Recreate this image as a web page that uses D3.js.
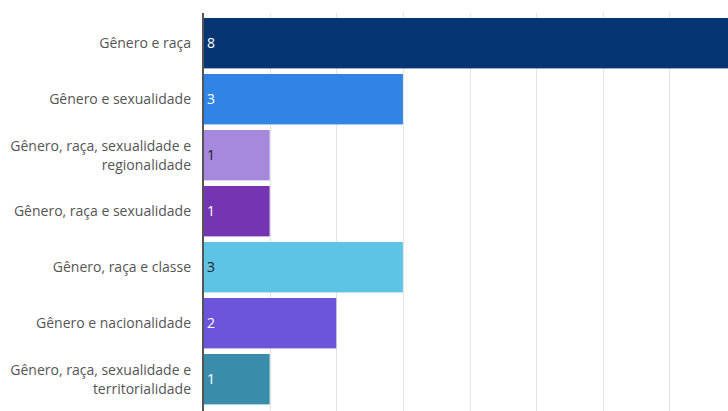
<!DOCTYPE html>
<html>
<head>
<meta charset="utf-8">
<script src="https://cdn.jsdelivr.net/npm/d3@7"></script>
<style>
  html, body { margin: 0; padding: 0; background: #fff; }
  svg { display: block; font-family: "Open Sans", "Noto Sans", sans-serif; }
  .cat-label { fill: #555; font-size: 14px; }
  .bar-label { font-size: 14px; }
  .grid line { stroke: #e3e3e3; stroke-width: 1; }
</style>
</head>
<body>
<div id="content"></div>
<script>
const CATEGORIES = [
  ['Gênero e raça'],
  ['Gênero e sexualidade'],
  ['Gênero, raça, sexualidade e', 'regionalidade'],
  ['Gênero, raça e sexualidade'],
  ['Gênero, raça e classe'],
  ['Gênero e nacionalidade'],
  ['Gênero, raça, sexualidade e', 'territorialidade']
];
const VALUES = [8, 3, 1, 1, 3, 2, 1];
const COLORS = ['#063671', '#2f84e5', '#a688dc', '#7535b3', '#5ec4e6', '#6c55db', '#3a8daa'];
const LABEL_COLORS = ['#fff', '#fff', '#222', '#fff', '#222', '#fff', '#fff'];
const GRID_TICKS = d3.range(0, 9);

var width = 728;
var height = 411;
var left = 203;

var svg = d3.select('#content')
  .append('svg')
  .attr('width', width)
  .attr('height', height);

var xScale = d3.scaleLinear()
  .domain([0, 7])
  .range([left, left + 466.4]);

var yScale = d3.scaleBand()
  .domain(d3.range(VALUES.length))
  .range([15.2, 407.2])
  .paddingInner(0.1)
  .paddingOuter(0.05);

// grid
svg.append('g')
  .attr('class', 'grid')
  .selectAll('line')
  .data(GRID_TICKS.slice(1))
  .enter()
  .append('line')
  .attr('x1', d => Math.round(xScale(d)) + 0.5)
  .attr('x2', d => Math.round(xScale(d)) + 0.5)
  .attr('y1', 13)
  .attr('y2', height);

svg.selectAll('rect.bar')
  .data(VALUES)
  .enter()
  .append('rect')
  .attr('class', 'bar')
  .attr('x', xScale(0))
  .attr('y', (d, i) => yScale(i))
  .attr('width', d => xScale(d) - xScale(0))
  .attr('height', yScale.bandwidth())
  .attr('fill', (d, i) => COLORS[i]);

// axis line
svg.append('line')
  .attr('x1', left)
  .attr('x2', left)
  .attr('y1', 13)
  .attr('y2', height)
  .attr('stroke', '#555')
  .attr('stroke-width', 2);

svg.selectAll('.bar-label')
  .data(VALUES)
  .enter()
  .append('text')
  .attr('class', 'bar-label')
  .attr('x', xScale(0) + 4)
  .attr('y', (d, i) => yScale(i) + yScale.bandwidth() / 2)
  .attr('dy', '0.35em')
  .attr('fill', (d, i) => LABEL_COLORS[i])
  .text(d => d);

var lineH = 19;
var cats = svg.selectAll('.cat-label')
  .data(CATEGORIES)
  .enter()
  .append('text')
  .attr('class', 'cat-label')
  .attr('text-anchor', 'end')
  .attr('y', (d, i) => yScale(i) + yScale.bandwidth() / 2);

cats.selectAll('tspan')
  .data(d => d.map((t, j) => ({t: t, j: j, n: d.length})))
  .enter()
  .append('tspan')
  .attr('x', 191)
  .attr('dy', (o) => o.j === 0 ? (0.35 * 14 - (o.n - 1) * lineH / 2) + 'px' : lineH + 'px')
  .text(o => o.t);
</script>
</body>
</html>
